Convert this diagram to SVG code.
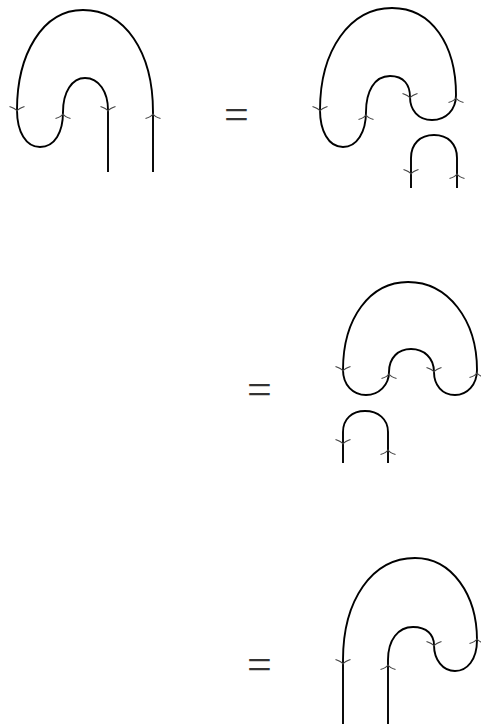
<svg xmlns="http://www.w3.org/2000/svg" width="481" height="724" viewBox="0 0 481 724">
<style>
.s{fill:none;stroke:#000;stroke-width:1.9;stroke-linejoin:round;stroke-linecap:butt}
.a{fill:none;stroke:#444;stroke-width:1.1}
.eq{font-family:"Liberation Serif",serif;font-size:44px;fill:#333;text-anchor:middle}
</style>
<defs>
<path id="dn" class="a" d="M-7.5,-4.5 Q-2,-2.8 0,0 Q2,-2.8 7.5,-4.5"/>
<path id="up" class="a" d="M-7.5,4.5 Q-2,2.8 0,0 Q2,2.8 7.5,4.5"/>
</defs>
<rect width="481" height="724" fill="#fff"/>
<g id="diagram1">
<path class="s" d="M153,172 L153,112 C153,52 125,10 83,10 C42,10 17,55 17,110 C17,132 26,147 40,147 C55,147 63,132 63,112 C63,92 72,78 85,78 C99,78 108,92 108,110 L108,172"/>
<use href="#dn" x="17" y="111"/>
<use href="#up" x="63" y="114"/>
<use href="#dn" x="108" y="111"/>
<use href="#up" x="153" y="114"/>
</g>
<g id="eq1"><text class="eq" x="236.5" y="129">=</text></g>
<g id="diagram2">
<path class="s" d="M320,110 C320,50 350,8 392,8 C432,8 456,45 456,95 C456,110 446,120 432,120 C418,120 410,110 410,97 C410,85 404,76 390,76 C374,76 366,92 366,112 C366,132 357,147 343,147 C328,147 320,130 320,110 Z"/>
<path class="s" d="M411,188 L411,158 C411,144 420,135 434,135 C448,135 457,144 457,158 L457,188"/>
<use href="#dn" x="320" y="111"/>
<use href="#up" x="366" y="115"/>
<use href="#dn" x="410" y="98"/>
<use href="#up" x="456" y="98"/>
<use href="#dn" x="411" y="174"/>
<use href="#up" x="457" y="174"/>
</g>
<g id="eq2"><text class="eq" x="259.5" y="404">=</text></g>
<g id="diagram3">
<path class="s" d="M343,370 C343,318 370,282 408,282 C448,282 477,320 477,370 C477,385 467,395 455,395 C442,395 434,385 434,372 C434,358 424,349 411,349 C398,349 389,358 389,372 C389,385 379,395 366,395 C353,395 343,385 343,370 Z"/>
<path class="s" d="M343,463 L343,432 C343,419 352,411 365,411 C378,411 388,419 388,432 L388,463"/>
<use href="#dn" x="343" y="371"/>
<use href="#up" x="389" y="374"/>
<use href="#dn" x="434" y="372"/>
<use href="#up" x="477" y="373"/>
<use href="#dn" x="343" y="444"/>
<use href="#up" x="388" y="450"/>
</g>
<g id="eq3"><text class="eq" x="259.5" y="679">=</text></g>
<g id="diagram4">
<path class="s" d="M343,724 L343,660 C343,600 372,558 415,558 C452,558 477,595 477,640 C477,660 467,671 455,671 C443,671 434,660 434,645 C434,635 427,627 413,627 C398,627 388,640 388,660 L388,724"/>
<use href="#dn" x="343" y="664"/>
<use href="#up" x="388" y="665"/>
<use href="#dn" x="434" y="646"/>
<use href="#up" x="477" y="639"/>
</g>
<g id="connectors"></g>
</svg>
